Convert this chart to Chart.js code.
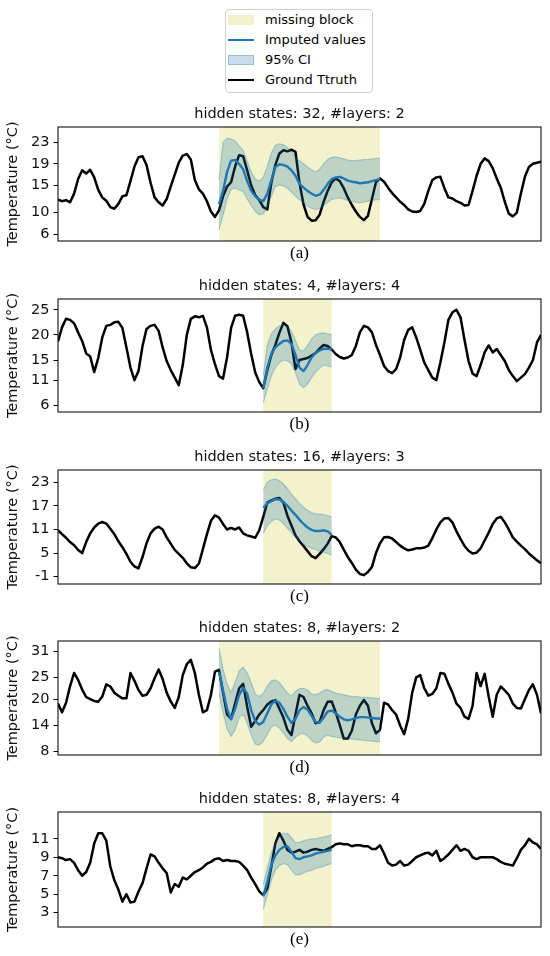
<!DOCTYPE html>
<html>
<head>
<meta charset="utf-8">
<script src="https://cdn.jsdelivr.net/npm/chart.js@4.4.1/dist/chart.umd.min.js"></script>
<style>
  body { margin: 0; width: 550px; height: 956px; background: #fff; position: relative; overflow: hidden; font-family: 'DejaVu Sans', sans-serif; }
  canvas { position: absolute; left: 0; }
  #legend { position: absolute; left: 225px; top: 9px; width: 148px; height: 84px; border: 1px solid #cfcfcf; border-radius: 4px; box-sizing: border-box; background: #fff; font-size: 13px; color: #000; }
  .item { position: absolute; left: 0; width: 146px; height: 20px; line-height: 20px; }
  .swatch { position: absolute; left: 2px; width: 26px; box-sizing: border-box; }
  .label { position: absolute; left: 39px; white-space: nowrap; }
</style>
</head>
<body>
<div id="legend"></div>
<script>
// ground truth, one value per time step (0..120)
var truthA = [12.4,12.1,12.3,11.9,13.5,16.2,17.8,17.2,17.9,16.5,
  14.2,12.8,12.2,11.0,10.7,11.6,13.0,13.2,15.8,18.5,
  20.2,20.4,18.8,15.5,12.8,11.9,11.3,12.5,14.8,17.0,
  19.2,20.5,20.8,19.8,16.0,14.3,13.5,12.1,10.2,9.2,
  10.4,13.0,14.8,15.6,18.5,20.6,20.4,17.8,15.0,13.2,
  12.3,11.0,10.6,15.5,18.8,20.9,21.5,21.3,21.6,21.2,
  15.5,11.5,9.2,8.5,8.6,9.6,12.0,14.0,15.6,16.3,
  15.8,14.5,12.8,11.4,10.2,9.2,8.6,9.4,12.5,15.6,
  16.3,15.7,14.6,13.6,12.8,12.0,11.4,10.6,10.2,10.1,
  10.3,11.6,14.0,16.0,16.5,16.6,14.5,12.8,12.6,12.1,
  11.8,11.3,11.4,14.0,16.8,19.0,20.0,19.5,18.2,16.3,
  14.6,12.0,9.8,9.3,10.0,13.5,16.6,18.4,19.0,19.2,
  19.4]
var truthB = [18.7,21.5,23.2,23.0,22.3,20.5,18.8,16.3,15.7,12.6,
  15.4,19.5,21.8,22.0,22.5,22.6,21.4,17.5,13.5,11.0,
  12.8,17.8,21.2,21.8,22.0,20.8,17.5,14.8,13.0,11.5,
  10.0,14.0,20.0,23.2,23.7,23.5,23.8,21.5,17.0,14.2,
  11.8,11.3,15.5,21.4,23.8,24.0,23.8,20.5,16.2,12.5,
  10.6,9.4,13.0,16.0,18.0,20.4,22.4,21.7,18.5,13.2,
  15.0,15.2,15.4,15.9,16.4,17.3,18.0,17.8,17.1,16.2,
  15.6,15.3,15.5,16.0,17.8,20.5,21.8,21.5,20.5,18.0,
  16.0,13.8,12.8,12.4,13.2,15.5,19.0,21.0,21.5,19.5,
  17.0,14.5,13.0,11.5,11.0,14.5,18.5,23.0,24.5,25.0,
  23.5,19.0,14.8,12.3,11.8,14.0,16.5,17.9,16.5,17.2,
  16.0,14.8,13.0,11.8,10.8,11.5,12.2,13.5,15.0,18.5,
  20.0]
var truthC = [10.8,9.8,8.9,7.8,7.0,5.8,5.0,7.8,10.0,11.5,
  12.5,12.9,12.5,11.2,9.8,8.0,6.5,4.8,2.8,1.6,
  1.1,4.0,7.5,10.0,11.2,11.7,11.0,9.0,7.4,5.8,
  4.8,3.8,2.4,1.4,1.2,2.3,6.0,9.8,13.2,14.6,
  14.0,12.4,11.0,11.4,11.0,11.5,10.0,9.5,9.2,8.9,
  10.8,14.2,17.8,18.4,18.8,19.0,17.8,14.5,12.0,9.5,
  8.0,6.8,5.5,4.2,3.7,4.8,6.0,7.4,9.3,9.0,
  7.8,5.9,4.0,2.5,0.8,-0.3,-0.6,0.2,1.5,5.0,
  7.5,9.0,9.1,8.7,7.8,6.9,6.2,5.7,5.9,6.2,
  6.2,6.4,6.9,8.8,11.0,12.8,13.8,13.9,12.8,10.5,
  8.6,6.8,5.6,4.9,5.1,6.2,8.2,10.2,12.4,13.8,
  14.2,12.8,11.0,9.0,7.9,6.9,6.0,4.9,4.0,3.2,
  2.4]
var truthD = [19.0,17.0,19.2,23.0,26.0,24.4,22.2,20.5,20.0,19.6,
  19.4,20.6,23.4,22.9,21.5,20.8,20.2,20.2,26.0,24.2,
  22.1,20.8,21.0,22.5,24.8,26.8,24.6,21.5,19.5,18.0,
  20.5,25.5,28.0,29.0,26.0,21.0,17.0,17.5,21.0,26.3,
  26.7,21.5,16.5,15.5,19.0,22.5,23.5,18.3,13.7,15.0,
  16.5,17.5,18.8,19.5,19.8,17.8,15.8,13.0,11.8,16.5,
  21.0,20.5,18.5,16.8,14.5,14.8,17.5,19.4,19.5,17.0,
  14.1,11.0,11.0,12.8,16.5,18.5,19.8,18.5,14.5,12.2,
  13.0,19.2,18.8,17.5,16.5,14.0,12.0,15.5,21.5,25.0,
  25.5,22.5,20.8,21.2,22.5,26.0,25.8,23.5,21.5,19.0,
  18.0,16.0,15.5,18.5,26.0,23.0,25.8,20.6,16.0,21.0,
  22.9,22.0,21.0,19.0,18.0,17.9,20.0,22.1,23.4,21.0,
  16.8]
var truthE = [9.0,8.9,8.7,8.8,8.4,7.6,7.0,7.4,8.4,10.5,
  11.6,11.6,10.8,8.0,6.5,5.5,4.2,5.0,4.1,4.2,
  5.3,6.2,7.8,9.3,9.1,8.4,7.8,7.3,5.2,6.1,
  5.8,6.8,6.6,7.0,7.4,7.6,7.9,8.3,8.5,8.8,
  8.9,8.6,8.7,8.6,8.6,8.5,8.1,7.6,6.8,6.1,
  5.3,4.9,5.6,8.0,10.5,11.6,10.8,9.8,9.5,9.6,
  9.8,9.5,9.6,9.8,9.9,9.8,9.7,9.9,10.1,10.4,
  10.5,10.4,10.4,10.2,10.3,10.3,10.2,10.2,9.9,9.9,
  10.3,9.4,8.4,8.1,8.2,8.6,8.1,8.2,8.6,9.0,
  9.2,9.4,9.5,9.2,9.7,8.6,8.9,9.3,9.8,10.3,
  9.7,9.9,9.7,9.0,8.8,9.0,9.0,9.0,9.0,8.8,
  8.5,8.3,8.2,8.1,8.9,9.8,10.3,11.0,10.6,10.4,
  9.9]

// missing blocks [first step, last step]
var blockA = [40, 80]
var blockB = [51, 68]
var blockC = [51, 68]
var blockD = [40, 80]
var blockE = [51, 68]

// imputed mean and 95% CI, one value per step of the block
var imputedA = [11.5,14.0,17.5,19.6,19.7,19.0,18.0,15.8,14.0,13.0,
  12.4,12.1,13.5,16.0,18.4,18.9,18.8,18.5,17.8,16.8,
  15.3,14.6,14.0,13.5,13.1,13.3,14.2,15.3,16.2,16.5,
  16.6,16.3,15.9,15.7,15.6,15.4,15.5,15.6,15.8,16.0,16.2]
var upperA = [16.0,23.0,23.7,23.6,23.2,22.3,21.5,19.5,17.5,16.2,
  15.8,16.5,18.5,21.0,22.4,22.7,22.5,22.0,21.2,20.2,
  19.5,19.0,18.4,17.9,17.5,18.0,19.0,19.8,20.2,20.3,
  20.1,19.9,19.7,19.6,19.6,19.7,19.8,19.8,19.9,20.0,20.0]
var lowerA = [6.8,9.5,12.4,14.3,14.5,14.2,13.9,12.5,11.3,10.2,
  9.6,9.8,11.0,13.0,14.8,15.1,14.9,14.5,13.8,13.0,
  12.4,11.8,11.2,10.8,10.6,10.7,11.3,11.9,12.4,12.6,
  12.7,12.5,12.2,12.0,11.9,11.8,11.9,12.1,12.2,12.4,12.4]

var imputedB = [9.4,13.5,16.2,17.5,18.2,18.8,18.9,18.2,16.0,13.5,12.8,14.0,15.5,16.4,16.9,17.2,17.3,17.1]
var upperB = [12.0,18.0,20.2,21.2,21.8,22.0,21.6,20.8,18.9,17.0,16.8,17.9,19.2,20.0,20.3,20.4,20.2,20.0]
var lowerB = [6.5,9.2,11.8,13.5,14.5,15.0,14.8,14.2,12.5,10.2,9.5,10.2,11.5,12.6,13.4,14.0,13.8,13.7]

var imputedC = [16.5,17.6,18.2,18.7,18.6,18.0,17.0,15.8,14.7,13.5,12.4,11.5,10.9,10.6,10.6,10.8,10.5,9.6]
var upperC = [21.0,23.0,23.6,23.8,23.4,22.6,21.4,20.0,18.8,17.6,16.6,15.9,15.3,15.0,14.9,14.8,14.5,14.2]
var lowerC = [10.0,12.0,13.0,13.7,13.4,12.5,11.3,10.2,9.0,8.2,7.3,6.7,6.2,5.9,5.5,5.2,4.9,4.5]

var imputedD = [26.2,22.0,17.8,15.4,17.8,21.0,22.6,21.3,17.5,15.0,
  14.2,14.8,16.8,18.8,19.7,19.2,17.8,16.0,14.6,15.5,
  17.5,18.2,17.6,16.2,14.8,14.6,15.8,17.2,17.4,16.8,
  16.0,15.4,15.2,15.4,15.7,15.9,15.9,15.8,15.7,15.6,15.6]
var upperD = [31.6,27.0,23.5,21.5,23.8,26.5,27.3,26.0,23.8,21.2,
  20.6,21.3,23.0,24.2,24.4,23.8,22.6,21.4,20.7,21.8,
  22.4,22.5,22.1,21.2,21.0,21.4,22.0,22.2,21.8,21.4,
  21.2,21.0,20.8,20.6,20.6,20.5,20.4,20.4,20.3,20.2,20.2]
var lowerD = [21.3,17.0,13.2,11.5,13.0,15.8,16.6,14.5,11.8,9.7,
  9.5,10.4,12.0,13.6,14.1,13.4,12.3,11.0,10.3,11.3,
  12.0,12.2,11.6,10.6,10.0,10.2,11.4,11.8,11.5,11.3,
  11.2,11.1,11.0,10.9,10.8,10.7,10.6,10.5,10.4,10.3,10.3]

var imputedE = [4.8,6.3,8.2,9.2,9.8,10.1,10.2,9.6,8.9,8.8,9.0,9.1,9.2,9.4,9.5,9.6,9.7,9.8]
var upperE = [6.1,7.8,9.5,10.6,11.2,11.6,11.6,11.1,10.6,10.6,10.8,10.9,11.0,11.0,11.1,11.2,11.3,11.4]
var lowerE = [3.4,4.9,6.5,7.6,8.1,8.3,8.2,7.6,7.1,7.1,7.3,7.5,7.6,7.8,7.9,8.0,8.2,8.3]

// axis limits and tick labels
var yRangeA = [4.75, 25.8], yTicksA = [6, 10, 15, 19, 23]
var yRangeB = [4.65, 27.15], yTicksB = [6, 11, 15, 20, 25]
var yRangeC = [-2.85, 26.1], yTicksC = [-1, 5, 11, 17, 23]
var yRangeD = [7.25, 33.3], yTicksD = [8, 14, 20, 25, 31]
var yRangeE = [1.45, 13.9], yTicksE = [3, 5, 7, 9, 11]

var titles = ['hidden states: 32, #layers: 2', 'hidden states: 4, #layers: 4',
  'hidden states: 16, #layers: 3', 'hidden states: 8, #layers: 2', 'hidden states: 8, #layers: 4']
var captions = ['(a)', '(b)', '(c)', '(d)', '(e)']

var blockColor = 'rgba(191,191,0,0.2)'
var imputedColor = '#1f77b4'
var ciFill = 'rgba(31,119,180,0.25)'
var ciEdge = 'rgba(31,119,180,0.3)'
var truthColor = '#000'

Chart.defaults.font.family = "'DejaVu Sans', sans-serif"
Chart.defaults.font.size = 14.5
Chart.defaults.color = '#000'

// chart area of each panel on the page
var panels = [
  {truth: truthA, block: blockA, imputed: imputedA, upper: upperA, lower: lowerA, yRange: yRangeA, yTicks: yTicksA, top: 127, bottom: 241},
  {truth: truthB, block: blockB, imputed: imputedB, upper: upperB, lower: lowerB, yRange: yRangeB, yTicks: yTicksB, top: 299, bottom: 412},
  {truth: truthC, block: blockC, imputed: imputedC, upper: upperC, lower: lowerC, yRange: yRangeC, yTicks: yTicksC, top: 470, bottom: 584},
  {truth: truthD, block: blockD, imputed: imputedD, upper: upperD, lower: lowerD, yRange: yRangeD, yTicks: yTicksD, top: 641, bottom: 755},
  {truth: truthE, block: blockE, imputed: imputedE, upper: upperE, lower: lowerE, yRange: yRangeE, yTicks: yTicksE, top: 812, bottom: 927}
]
var titleBox = 21
var captionBox = 22

var missingBlock = {
  id: 'missingBlock',
  beforeDatasetsDraw(chart, args, opts) {
    const {ctx, chartArea, scales} = chart
    const x0 = scales.x.getPixelForValue(opts.from)
    const x1 = scales.x.getPixelForValue(opts.to)
    ctx.save()
    ctx.fillStyle = opts.color
    ctx.fillRect(x0, chartArea.top, x1 - x0, chartArea.bottom - chartArea.top)
    ctx.restore()
  }
}

var frame = {
  id: 'frame',
  afterDatasetsDraw(chart) {
    const {ctx, chartArea} = chart
    ctx.save()
    ctx.strokeStyle = '#111'
    ctx.lineWidth = 1.1
    ctx.strokeRect(chartArea.left, chartArea.top, chartArea.right - chartArea.left, chartArea.bottom - chartArea.top)
    ctx.restore()
  }
}

function toPoints(values, start) {
  return values.map((v, i) => ({x: start + i, y: v}))
}

function makePanel(p, i) {
  let canvas = document.createElement('canvas')
  let h = titleBox + (p.bottom - p.top) + captionBox
  canvas.width = 550
  canvas.height = h
  canvas.style.top = (p.top - titleBox) + 'px'
  document.body.appendChild(canvas)

  return new Chart(canvas.getContext('2d'), {
    type: 'line',
    data: {
      datasets: [
        {label: 'Imputed values', data: toPoints(p.imputed, p.block[0]), borderColor: imputedColor, borderWidth: 2.4, fill: false},
        {label: '95% CI', data: toPoints(p.upper, p.block[0]), borderColor: ciEdge, borderWidth: 1.2, backgroundColor: ciFill, fill: '+1'},
        {label: '95% CI lower', data: toPoints(p.lower, p.block[0]), borderColor: ciEdge, borderWidth: 1.2, fill: false},
        {label: 'Ground Ttruth', data: toPoints(p.truth, 0), borderColor: truthColor, borderWidth: 2.5, fill: false}
      ]
    },
    options: {
      responsive: false,
      animation: false,
      events: [],
      layout: {padding: {left: 0, right: 9, top: 0, bottom: 0}},
      elements: {point: {radius: 0}, line: {tension: 0, borderJoinStyle: 'round'}},
      scales: {
        x: {type: 'linear', min: 0, max: p.truth.length - 1, display: false},
        y: {
          type: 'linear',
          min: p.yRange[0],
          max: p.yRange[1],
          border: {display: false},
          grid: {drawOnChartArea: false, drawTicks: true, tickLength: 4.5, color: '#000', lineWidth: 1},
          ticks: {padding: 4, autoSkip: false, color: '#111', font: {size: 14.5}, callback: v => String(v)},
          title: {display: true, text: 'Temperature (°C)', color: '#111', font: {size: 14.5, lineHeight: '17px'}, padding: {top: 5, bottom: 0}},
          afterBuildTicks: scale => { scale.ticks = p.yTicks.map(v => ({value: v})) },
          afterFit: scale => { scale.width = 58; scale.paddingTop = 0; scale.paddingBottom = 0 }
        }
      },
      plugins: {
        legend: {display: false},
        tooltip: {enabled: false},
        title: {display: true, fullSize: false, text: titles[i], color: '#111',
          font: {size: 14.5, weight: 'normal', lineHeight: '16px'}, padding: {top: 0, bottom: 5}},
        subtitle: {display: true, fullSize: false, position: 'bottom', text: captions[i], color: '#000',
          font: {family: "'Liberation Serif', 'DejaVu Serif', serif", size: 17, weight: 'normal', lineHeight: '19px'}, padding: {top: 3, bottom: 0}},
        missingBlock: {from: p.block[0], to: p.block[1], color: blockColor}
      }
    },
    plugins: [missingBlock, frame]
  })
}

var charts = panels.map(makePanel)

// legend box above the panels
var legendItems = [
  {label: 'missing block', kind: 'patch', fill: blockColor, edge: 'transparent'},
  {label: charts[0].data.datasets[0].label, kind: 'line', stroke: imputedColor},
  {label: charts[0].data.datasets[1].label, kind: 'patch', fill: ciFill, edge: ciEdge},
  {label: charts[0].data.datasets[3].label, kind: 'line', stroke: truthColor}
]
var legendBox = document.getElementById('legend')
legendItems.forEach((item, i) => {
  let row = document.createElement('div')
  row.className = 'item'
  row.style.top = (i * 20) + 'px'
  let sw = document.createElement('div')
  sw.className = 'swatch'
  if (item.kind === 'patch') {
    sw.style.top = '5px'
    sw.style.height = '10px'
    sw.style.background = item.fill
    sw.style.border = '1px solid ' + item.edge
  } else {
    sw.style.top = '9px'
    sw.style.height = '2.4px'
    sw.style.background = item.stroke
  }
  let txt = document.createElement('span')
  txt.className = 'label'
  txt.textContent = item.label
  row.appendChild(sw)
  row.appendChild(txt)
  legendBox.appendChild(row)
})
</script>
</body>
</html>
